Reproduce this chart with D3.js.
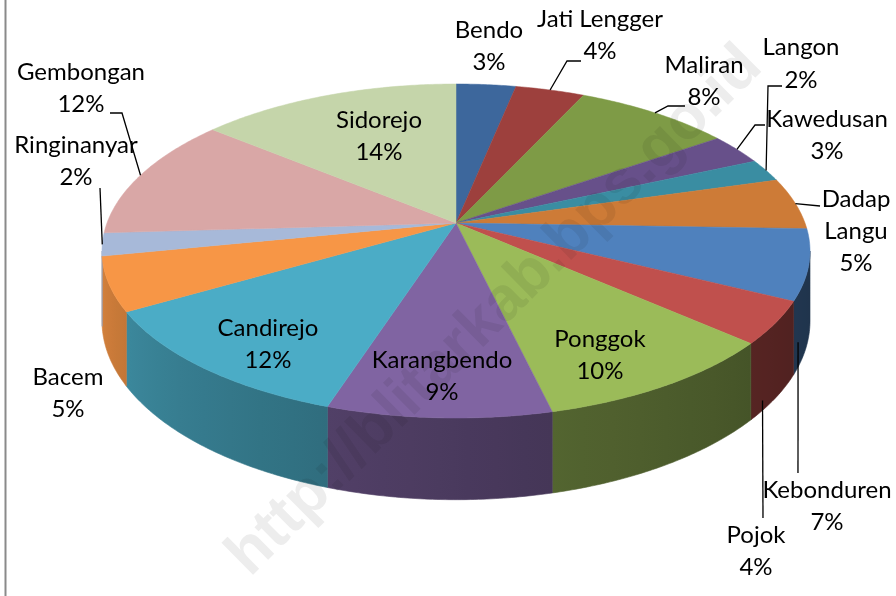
<!DOCTYPE html>
<html>
<head>
<meta charset="utf-8">
<script src="https://cdn.jsdelivr.net/npm/d3@7"></script>
<style>
  body { margin: 0; background: #fff; }
  svg { display: block; }
  text { font-family: Lato, "Open Sans", sans-serif; }
</style>
</head>
<body>
<div id="chart"></div>
<script>
// District shares (labels show the rounded percentage)
const districts = ["Bendo", "Jati Lengger", "Maliran", "Kawedusan", "Langon", "Dadap Langu",
  "Kebonduren", "Pojok", "Ponggok", "Karangbendo", "Candirejo", "Bacem",
  "Ringinanyar", "Gembongan", "Sidorejo"];
const shares = [3.2, 3.7, 8.4, 3.0, 2.2, 5.0, 6.8, 4.1, 9.8, 8.7, 11.6, 5.2, 2.2, 11.9, 14.0];
const sliceColors = ["#3d679c", "#9d403d", "#7e9b46", "#67508a", "#3a8da2", "#cd7b37",
  "#4f81bd", "#c0504d", "#9bbb59", "#8064a2", "#4bacc6", "#f79646",
  "#a7b9d9", "#d9a7a6", "#c5d5aa"];

const width = 896, height = 596;

// 3D pie geometry (tilted disc with a bit of perspective)
const cx = 456, cy = 223, rx = 349, ry = 162.3, persp = 0.1677, depthPx = 68;

function proj(a, depth = 0) {
  const X = Math.sin(a), Z = Math.cos(a), k = 1 / (1 + persp * Z);
  return [cx + rx * X * k, cy - ry * Z * k + depth * depthPx * k];
}
function arcPoints(a0, a1, depth) {
  const n = Math.max(2, Math.ceil((a1 - a0) / 0.01));
  return d3.range(n + 1).map(i => proj(a0 + (a1 - a0) * i / n, depth));
}

// label layout: centre x, first baseline, leader elbow points
const labelLayout = {
  "Bendo":        {x: 489, y: 38},
  "Jati Lengger": {x: 600, y: 27, leader: [[567, 61], [581, 61]]},
  "Maliran":      {x: 704, y: 73, leader: [[668, 106], [685, 106]]},
  "Kawedusan":    {x: 827, y: 127, leader: [[755, 125], [765, 125]]},
  "Langon":       {x: 801, y: 55, gap: 33, leader: [[768, 86], [782, 86]]},
  "Dadap Langu":  {x: 856, y: 207, split: true, leader: [[820, 206]]},
  "Kebonduren":   {x: 827, y: 498, anchor: {t: 0.9, depth: 0.66}, leader: [[798, 473]]},
  "Pojok":        {x: 756, y: 543, anchor: {t: 0.78, depth: 0.87}, leader: [[763, 518]]},
  "Ponggok":      {x: 600, y: 347},
  "Karangbendo":  {x: 442, y: 368},
  "Candirejo":    {x: 268, y: 336},
  "Bacem":        {x: 68, y: 385},
  "Ringinanyar":  {x: 76, y: 153, leader: [[100, 188]]},
  "Gembongan":    {x: 81, y: 80, leader: [[122, 113], [110, 113]]},
  "Sidorejo":     {x: 379, y: 128}
};

const svg = d3.select("#chart")
  .append("svg")
  .attr("width", width)
  .attr("height", height);

// chart border (only the left edge is inside the picture)
svg.append("line")
  .attr("x1", 5.5).attr("x2", 5.5)
  .attr("y1", 0).attr("y2", height)
  .attr("stroke", "#8a8a8a")
  .attr("stroke-width", 2);

const total = d3.sum(shares);
const pie = d3.pie().sort(null).value(d => d);
const slices = pie(shares).map((d, i) => ({...d, name: districts[i], color: sliceColors[i]}));

// walls: only the front part is visible
const aMin = Math.PI / 2 + Math.asin(persp), aMax = 3 * Math.PI / 2 - Math.asin(persp);
function shade(color, a) {
  const t = Math.max(0, Math.min(1, (a - aMin) / (aMax - aMin)));
  const f = 0.40 + 0.47 * Math.pow(t, 1.4);
  const c = d3.rgb(color);
  return d3.rgb(c.r * f, c.g * f, c.b * f).formatHex();
}

const defs = svg.append("defs");
const line = d3.line();
const walls = svg.append("g");

slices.forEach((s, i) => {
  const w0 = Math.max(s.startAngle, aMin), w1 = Math.min(s.endAngle, aMax);
  if (w0 >= w1) return;
  const x1 = proj(w0)[0], x2 = proj(w1)[0];
  const grad = defs.append("linearGradient")
    .attr("id", "wall" + i)
    .attr("gradientUnits", "userSpaceOnUse")
    .attr("x1", x1).attr("x2", x2).attr("y1", 0).attr("y2", 0);
  d3.range(9).forEach(j => {
    const a = w0 + (w1 - w0) * j / 8;
    grad.append("stop")
      .attr("offset", (proj(a)[0] - x1) / (x2 - x1))
      .attr("stop-color", shade(s.color, a));
  });
  const pts = arcPoints(w0, w1, 0).concat(arcPoints(w0, w1, 1).reverse());
  walls.append("path")
    .attr("d", line(pts) + "Z")
    .attr("fill", `url(#wall${i})`)
    .attr("stroke", `url(#wall${i})`)
    .attr("stroke-width", 0.6);
});

// top faces
svg.append("g")
  .selectAll("path")
  .data(slices)
  .join("path")
  .attr("d", d => line([[cx, cy]].concat(arcPoints(d.startAngle, d.endAngle, 0))) + "Z")
  .attr("fill", d => d.color)
  .attr("stroke", d => d.color)
  .attr("stroke-width", 0.5);

// labels and leader lines
const labels = svg.append("g").attr("font-size", 24).attr("fill", "#000");
slices.forEach(s => {
  const lay = labelLayout[s.name];
  const pct = Math.round(s.value / total * 100) + "%";
  const lines = lay.split ? s.name.split(" ").concat([pct]) : [s.name, pct];
  const gap = lay.gap || 32;
  const t = labels.append("text").attr("text-anchor", "middle");
  lines.forEach((l, k) => {
    t.append("tspan").attr("x", lay.x).attr("y", lay.y + k * gap).text(l);
  });
  if (lay.leader) {
    let start;
    if (lay.anchor) {
      const a = s.startAngle + (s.endAngle - s.startAngle) * lay.anchor.t;
      start = proj(a, lay.anchor.depth);
    } else {
      start = proj((s.startAngle + s.endAngle) / 2, 0);
    }
    labels.append("path")
      .attr("d", line([start].concat(lay.leader)))
      .attr("fill", "none")
      .attr("stroke", "#000")
      .attr("stroke-width", 1.3);
  }
});

// watermark
svg.append("text")
  .attr("transform", "translate(492,308) rotate(-44.7)")
  .attr("text-anchor", "middle")
  .attr("dominant-baseline", "central")
  .style("font-family", "'Liberation Sans', Arial, sans-serif")
  .style("font-weight", "bold")
  .style("font-size", "62px")
  .style("mix-blend-mode", "multiply")
  .attr("fill", "#ededed")
  .text("http://blitarkab.bps.go.id");
</script>
</body>
</html>
